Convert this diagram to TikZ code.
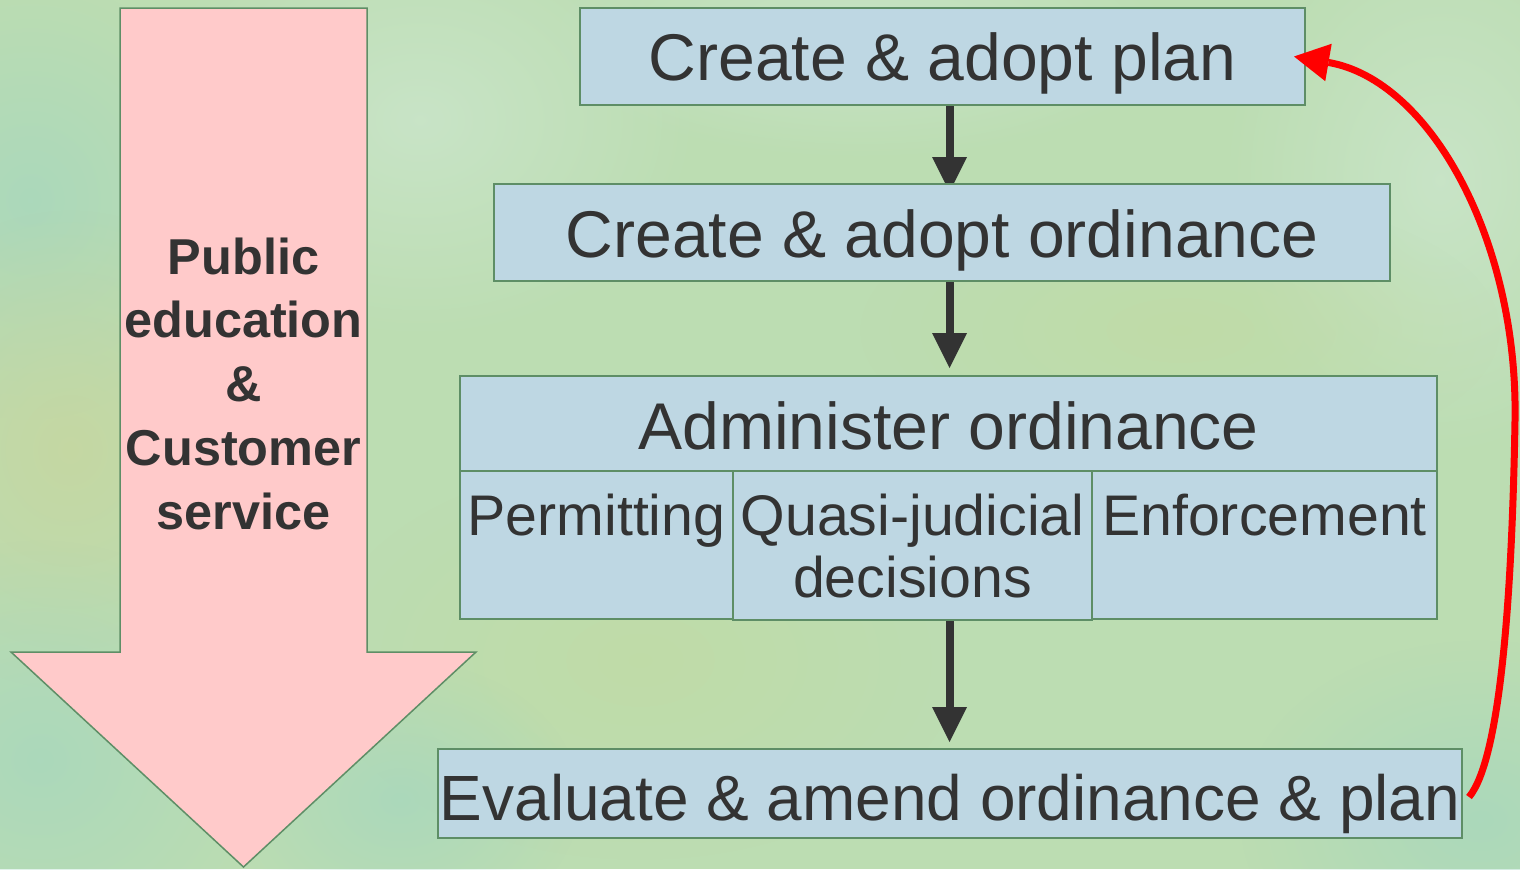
\documentclass[tikz,border=0pt]{standalone}
\usepackage{fontspec}
\setmainfont{Liberation Sans}
\usetikzlibrary{arrows.meta,fadings}
\pgfdeclarelayer{texture}
\pgfdeclarelayer{links}
\pgfsetlayers{texture,links,main}

\definecolor{ink}{HTML}{333333}
\definecolor{boxfill}{HTML}{BED7E3}
\definecolor{boxedge}{HTML}{5E8E66}
\definecolor{pinkfill}{HTML}{FFCACA}
\definecolor{bgbase}{HTML}{BCDDB2}
\definecolor{bgteal}{HTML}{A2D6C0}
\definecolor{bgolive}{HTML}{C9D49A}
\definecolor{bgpale}{HTML}{CFE8D2}
\definecolor{bglime}{HTML}{C2DBA2}
\definecolor{loopred}{HTML}{FF0000}

% one pixel of the 1520 x 869 canvas
\newcommand\pxu{0.02cm}
\tikzfading[name=softblob, inner color=transparent!35, outer color=transparent!100]

\tikzset{
  stage/.style={draw=boxedge, line width=0.04cm, fill=boxfill, inner sep=0pt, text=ink},
  bigtext/.style={font=\fontsize{37.6pt}{42pt}\selectfont},
  subtext/.style={font=\fontsize{32.6pt}{35.8pt}\selectfont},
  flow/.style={draw=ink, line width=0.16cm,
    -{Triangle[width=0.7cm,length=0.7cm,line width=0pt]}},
  loopback/.style={draw=loopred, line width=0.14cm,
    -{Triangle[width=0.76cm,length=0.7cm,line width=0pt]}},
  blob/.style={fill=#1, path fading=softblob},
}

\begin{document}
\begin{tikzpicture}[x=0.02cm,y=-0.02cm]
\useasboundingbox (0,0) rectangle (1520,869);

% mottled green backdrop
\begin{pgfonlayer}{texture}
  \fill[bgbase] (0,0) rectangle (1520,869);
  \fill[blob=bgteal]  (30,200)   ellipse [x radius=200, y radius=220];
  \fill[blob=bgolive] (70,450)   ellipse [x radius=220, y radius=240];
  \fill[blob=bgteal]  (40,760)   ellipse [x radius=240, y radius=220];
  \fill[blob=bgpale]  (420,120)  ellipse [x radius=280, y radius=220];
  \fill[blob=bglime]  (640,660)  ellipse [x radius=320, y radius=200];
  \fill[blob=bgpale]  (1440,180) ellipse [x radius=220, y radius=280];
  \fill[blob=bgteal]  (1480,820) ellipse [x radius=240, y radius=180];
  \fill[blob=bglime]  (1180,330) ellipse [x radius=320, y radius=140];
  \fill[blob=bgpale]  (860,40)   ellipse [x radius=320, y radius=120];
  \fill[blob=bgteal]  (400,800)  ellipse [x radius=180, y radius=140];
\end{pgfonlayer}

% public education & customer service band
\path[draw=boxedge, line width=0.03cm, fill=pinkfill]
  (120,8) -- (367,8) -- (367,652) -- (476,652) -- (243.5,867)
  -- (11,652) -- (120,652) -- cycle;
\node[anchor=base, inner sep=0pt, text=ink,
      font=\fontsize{28.7pt}{36.4pt}\selectfont\bfseries] (service) at (243.5,274)
  {\begin{tabular}[t]{@{}c@{}}Public\\education\\\&\\Customer\\service\end{tabular}};

% process stages
\node[stage, bigtext, minimum width=725*\pxu, minimum height=97*\pxu,
      text height=47*\pxu, text depth=0pt] (plan) at (942.5,56.5) {Create \& adopt plan};
\node[stage, bigtext, minimum width=896*\pxu, minimum height=97*\pxu,
      text height=49*\pxu, text depth=0pt] (ord) at (942,232.5) {Create \& adopt ordinance};
\node[stage, bigtext, minimum width=977*\pxu, minimum height=95*\pxu,
      text height=51*\pxu, text depth=0pt] (adm) at (948.5,423.5) {Administer ordinance};
\node[stage, subtext, minimum width=273*\pxu, minimum height=148*\pxu,
      text height=0pt, text depth=20*\pxu] (permit) at (596.5,545) {Permitting};
\node[stage, subtext, minimum width=345*\pxu, minimum height=148*\pxu,
      text height=0pt, text depth=20*\pxu] (enforce) at (1264.5,545) {Enforcement};
\node[stage, subtext, minimum width=359*\pxu, minimum height=149*\pxu,
      text height=0pt, text depth=21*\pxu] (quasi) at (912.5,545.5)
  {\begin{tabular}[t]{@{}c@{}}Quasi-judicial\\decisions\end{tabular}};
\node[stage, minimum width=1024*\pxu, minimum height=89*\pxu,
      font=\fontsize{36.4pt}{40pt}\selectfont,
      text height=53*\pxu, text depth=0pt] (eval) at (950,793.5)
  {Evaluate \& amend ordinance \& plan};

% downward flow between stages
\coordinate (spine) at (949.5,0);
\begin{pgfonlayer}{links}
  \draw[flow] (plan.south -| spine) -- ([yshift=-9*\pxu]ord.north -| spine);
  \draw[flow] (ord.south -| spine) -- ([yshift=7*\pxu]adm.north -| spine);
  \draw[flow] (quasi.south -| spine) -- ([yshift=6*\pxu]eval.north -| spine);
\end{pgfonlayer}

% feedback loop back to the plan
\draw[loopback] ([xshift=6*\pxu, yshift=-3.5*\pxu]eval.east)
  .. controls (1500,760) and (1512,600) .. (1515,420)
  .. controls (1518,240) and (1430,80) .. ([xshift=-12*\pxu]plan.east);
\end{tikzpicture}
\end{document}
